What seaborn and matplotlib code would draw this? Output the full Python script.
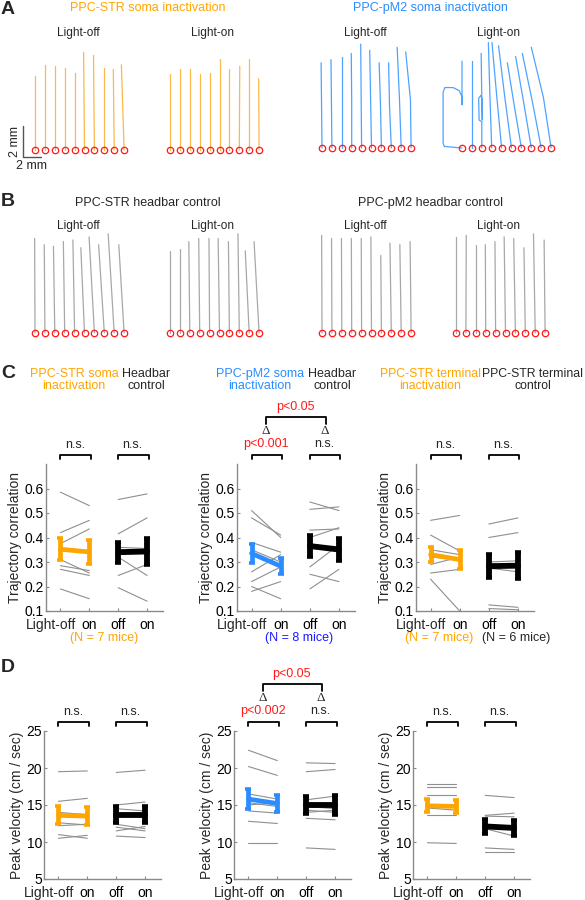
#!/usr/bin/env python
import numpy as np
import pandas as pd
import matplotlib
matplotlib.use('Agg')
import matplotlib.pyplot as plt
import seaborn as sns

W, H = 585, 900

# ---- Panel A/B: trajectory end points (mm), one entry per trial ----
a_str_off_len = [4.8, 5.5, 5.4, 5.3, 5.0, 6.3, 6.1, 5.3, 5.2, 5.5]
a_str_off_drift = [0, 0, 0, 0, 0, -0.1, -0.1, 0, -0.1, -0.3]
a_str_on_len = [4.9, 5.2, 5.2, 4.9, 5.0, 5.9, 5.2, 5.4, 5.9, 4.6]
a_str_on_drift = [0, 0, 0, 0, 0, 0, 0, 0.05, 0, -0.05]
a_pm2_off_len = [5.5, 5.7, 5.9, 6.1, 6.7, 6.3, 5.5, 5.5, 6.5, 6.2]
a_pm2_off_drift = [-0.1, -0.1, 0.0, -0.05, -0.1, -0.2, -0.25, -0.3, -0.45, -0.6]
a_pm2_off_mid = [-0.05, -0.05, 0, 0, -0.05, -0.1, -0.1, -0.2, -0.2, -0.07]
a_pm2_on_len = [5.6, 5.6, 6.1, 6.8, 6.8, 6.6, 5.5, 5.9, 6.1, 6.5]
a_pm2_on_drift = [0, 0, -0.07, -0.37, -1.07, -1.44, -1.56, -1.74, -2.1, -2.2]
a_pm2_on_mid = [0, 0, 0, -0.2, -0.55, -0.75, -0.8, -0.85, -1.0, -0.85]
# detours of trial 1 and trial 3 (light-on, PPC-pM2)
loop1_x = [-1.96, -2.1, -2.1, -1.9, -1.0, -0.3, 0.0]
loop1_y = [0.1, 0.3, 3.6, 3.9, 3.9, 3.7, 3.3]
loop3_x = [0.0, -0.3, -0.35, -0.1, 0.05, 0.05]
loop3_y = [1.7, 1.8, 3.2, 3.4, 3.1, 1.8]

b_str_off_len = [6.1, 5.7, 5.6, 5.9, 6.0, 5.5, 6.2, 5.7, 6.4, 5.7]
b_str_off_drift = [-0.04, -0.07, -0.15, -0.15, -0.19, -0.41, -0.59, -0.63, -0.67, -0.59]
b_str_on_len = [5.3, 5.4, 5.9, 6.1, 6.1, 6.1, 5.9, 6.4, 5.3, 5.9]
b_str_on_drift = [0, 0, -0.11, -0.11, -0.07, -0.15, -0.11, -0.15, -0.44, -0.56]
b_pm2_off_len = [6.3, 6.1, 6.1, 6.1, 6.1, 6.2, 5.0, 5.8, 5.7, 5.9]
b_pm2_off_drift = [-0.04, -0.04, -0.04, -0.04, -0.04, -0.07, -0.07, -0.15, -0.15, -0.11]
b_pm2_on_len = [6.2, 6.3, 5.7, 5.7, 5.9, 6.2, 6.1, 5.5, 6.4, 6.0]
b_pm2_on_drift = [0, 0.04, 0, -0.04, -0.07, -0.15, -0.19, -0.15, -0.19, -0.11]

# ---- Panel C: trajectory correlation per mouse (off, on) ----
c_str_soma_off = [0.585, 0.42, 0.375, 0.31, 0.285, 0.27, 0.19]
c_str_soma_on = [0.53, 0.47, 0.435, 0.255, 0.265, 0.245, 0.15]
c_str_soma_mean, c_str_soma_sem = [0.352, 0.341], [0.044, 0.05]
c_str_head_off = [0.555, 0.415, 0.36, 0.33, 0.32, 0.245, 0.195]
c_str_head_on = [0.578, 0.48, 0.355, 0.35, 0.245, 0.29, 0.14]
c_str_head_mean, c_str_head_sem = [0.34, 0.343], [0.043, 0.055]
c_pm2_soma_off = [0.51, 0.48, 0.38, 0.35, 0.26, 0.22, 0.2, 0.18]
c_pm2_soma_on = [0.40, 0.41, 0.34, 0.30, 0.33, 0.28, 0.15, 0.22]
c_pm2_soma_mean, c_pm2_soma_sem = [0.335, 0.283], [0.04, 0.033]
c_pm2_head_off = [0.545, 0.515, 0.43, 0.40, 0.365, 0.28, 0.25, 0.19]
c_pm2_head_on = [0.51, 0.525, 0.435, 0.44, 0.35, 0.37, 0.22, 0.27]
c_pm2_head_mean, c_pm2_head_sem = [0.365, 0.351], [0.045, 0.045]
c_term_off = [0.47, 0.41, 0.35, 0.29, 0.255, 0.23, 0.32]
c_term_on = [0.49, 0.345, 0.33, 0.32, 0.27, 0.10, 0.31]
c_term_mean, c_term_sem = [0.33, 0.31], [0.03, 0.04]
c_termctl_off = [0.455, 0.40, 0.30, 0.275, 0.125, 0.11]
c_termctl_on = [0.48, 0.42, 0.305, 0.26, 0.115, 0.105]
c_termctl_mean, c_termctl_sem = [0.283, 0.285], [0.05, 0.055]

# ---- Panel D: peak velocity (cm/s) per mouse (off, on) ----
d_str_soma_off = [19.5, 15.5, 14.0, 12.6, 12.2, 11.0, 10.5]
d_str_soma_on = [19.6, 15.9, 13.7, 12.3, 12.4, 10.5, 10.9]
d_str_soma_mean, d_str_soma_sem = [13.6, 13.5], [1.2, 1.2]
d_str_head_off = [19.4, 15.0, 14.5, 12.4, 12.0, 11.5, 10.8]
d_str_head_on = [19.7, 15.4, 14.2, 11.8, 11.5, 12.1, 10.6]
d_str_head_mean, d_str_head_sem = [13.7, 13.7], [1.1, 1.1]
d_pm2_soma_off = [22.4, 20.2, 16.5, 15.3, 15.0, 14.2, 12.8, 9.9]
d_pm2_soma_on = [21.0, 19.0, 15.8, 14.8, 15.3, 13.9, 12.5, 9.9]
d_pm2_soma_mean, d_pm2_soma_sem = [15.8, 15.2], [1.3, 1.2]
d_pm2_head_off = [20.7, 19.5, 15.7, 14.8, 14.3, 13.2, 9.2, 14.0]
d_pm2_head_on = [20.6, 19.8, 16.2, 14.5, 14.0, 13.0, 9.0, 14.3]
d_pm2_head_mean, d_pm2_head_sem = [15.0, 15.0], [1.2, 1.3]
d_term_off = [17.8, 17.5, 16.3, 14.6, 13.7, 9.9, 14.8]
d_term_on = [17.8, 17.5, 16.3, 14.3, 13.7, 9.8, 15.0]
d_term_mean, d_term_sem = [14.9, 14.8], [0.9, 0.9]
d_termctl_off = [16.3, 13.6, 13.5, 11.8, 9.2, 8.6]
d_termctl_on = [16.0, 13.9, 13.4, 10.8, 9.0, 8.6]
d_termctl_mean, d_termctl_sem = [12.1, 11.9], [1.0, 1.1]

x_labels = ['Light-off', 'on', 'off', 'on']

ORANGE = '#FFA500'
ORANGE_TR = '#FDB84A'
BLUE = '#2A8CFF'
BLUE_TR = '#4FA3FF'
GRAY_TR = '#A8A8A8'
RED = '#FF1A1A'
TICK_FS = 10
ANN_FS = 9

sns.set_theme(style='ticks')
plt.rcParams['font.family'] = ['Liberation Sans', 'DejaVu Sans']
plt.rcParams.update({
    'xtick.direction': 'in', 'ytick.direction': 'in',
    'xtick.major.size': 2.5, 'ytick.major.size': 2.5,
    'axes.edgecolor': '#8a8a8a', 'xtick.color': '#8a8a8a',
    'ytick.color': '#8a8a8a', 'xtick.labelcolor': 'black',
    'ytick.labelcolor': 'black', 'axes.linewidth': 1.0,
})

fig = plt.figure(figsize=(W / 100, H / 100), dpi=100)


def px_axes(left, top, right, bottom):
    return fig.add_axes([left / W, 1 - bottom / H, (right - left) / W,
                         (bottom - top) / H])


def ftext(x, y, s, **kw):
    kw.setdefault('ha', 'center')
    kw.setdefault('va', 'center')
    fig.text(x / W, 1 - y / H, s, **kw)


SPACING = 1.1  # mm between start points
XS, YS = 9.0, 15.5  # px per mm


def traj_axes(cx0, cy):
    ax = px_axes(cx0 - 0.6 * XS, cy - 7.2 * YS, cx0 + 10.5 * XS, cy + 0.3 * YS)
    ax.set_xlim(-0.6, 10.5)
    ax.set_ylim(-0.3, 7.2)
    ax.axis('off')
    return ax


def draw_traj(ax, lens, drifts, color, mids=None, loops=None):
    loops = loops or {}
    for i, (ln, dr) in enumerate(zip(lens, drifts)):
        x0 = i * SPACING
        px, py = [0.0], [0.0]
        if i in loops:
            px += loops[i][0]
            py += loops[i][1]
        if mids is not None:
            px.append(mids[i])
            py.append(ln / 2)
        px.append(dr)
        py.append(ln)
        ax.plot(np.array(px) + x0, py, color=color, lw=0.9, clip_on=False)
    ax.plot(np.arange(len(lens)) * SPACING, np.zeros(len(lens)), 'o',
            mfc='none', mec=RED, ms=4.6, mew=0.9, clip_on=False)


# Panel A
ax = traj_axes(35, 150)
draw_traj(ax, a_str_off_len, a_str_off_drift, ORANGE_TR)
sx, sy = (23 - 35) / XS, (150 - 157) / YS
ax.plot([sx, sx, sx + 2], [sy + 2, sy, sy], color='#555555', lw=1.0, clip_on=False)
ax.text(sx - 0.25, sy + 1, '2 mm', rotation=90, ha='right', va='center', fontsize=9)
ax.text(sx + 1, sy - 0.2, '2 mm', ha='center', va='top', fontsize=9)
ax = traj_axes(170, 150)
draw_traj(ax, a_str_on_len, a_str_on_drift, ORANGE_TR)
ax = traj_axes(322, 148)
draw_traj(ax, a_pm2_off_len, a_pm2_off_drift, BLUE_TR, mids=a_pm2_off_mid)
ax = traj_axes(462, 148)
draw_traj(ax, a_pm2_on_len, a_pm2_on_drift, BLUE_TR, mids=a_pm2_on_mid,
          loops={0: (loop1_x, loop1_y), 2: (loop3_x, loop3_y)})

# Panel B
for cx0, lens, drs in [(35, b_str_off_len, b_str_off_drift),
                       (170, b_str_on_len, b_str_on_drift),
                       (322, b_pm2_off_len, b_pm2_off_drift),
                       (456, b_pm2_on_len, b_pm2_on_drift)]:
    ax = traj_axes(cx0, 333)
    draw_traj(ax, lens, drs, GRAY_TR)

ftext(8, 9, 'A', fontsize=14, weight='bold')
ftext(148, 8, 'PPC-STR soma inactivation', color=ORANGE, fontsize=9)
ftext(430, 8, 'PPC-pM2 soma inactivation', color=BLUE, fontsize=9)
for cx, y in [(78, 33), (212, 33), (365, 33), (499, 33),
              (78, 226), (212, 226), (365, 226), (499, 226)]:
    ftext(cx, y, 'Light-off' if cx in (78, 365) else 'Light-on', fontsize=8.6)
ftext(8, 201, 'B', fontsize=14, weight='bold')
ftext(148, 203, 'PPC-STR headbar control', fontsize=9)
ftext(430, 203, 'PPC-pM2 headbar control', fontsize=9)


def bracket(ax, x1, x2, frac, drop, color='black'):
    ax.plot([x1, x1, x2, x2], [frac - drop, frac, frac, frac - drop],
            transform=ax.get_xaxis_transform(), clip_on=False, color=color, lw=1.3)


def pair_panel(rect, groups, ylim, yticks, ylabel):
    ax = px_axes(*rect)
    rows = []
    for gi, (x0, offs, ons, _, _, _) in enumerate(groups):
        for m, (o, n) in enumerate(zip(offs, ons)):
            rows.append({'unit': f'{gi}-{m}', 'x': x0, 'y': o})
            rows.append({'unit': f'{gi}-{m}', 'x': x0 + 1, 'y': n})
    df = pd.DataFrame(rows)
    sns.lineplot(data=df, x='x', y='y', units='unit', estimator=None,
                 color='#8f8f8f', lw=0.8, ax=ax)
    for x0, _, _, mean, sem, col in groups:
        lw = 4.2 if col == 'black' else 3.4
        ax.errorbar([x0, x0 + 1], mean, yerr=sem, color=col, lw=lw,
                    elinewidth=lw, capsize=2.4, capthick=2.6, zorder=5)
    ax.set_xlim(0.5, 4.55)
    ax.set_ylim(*ylim)
    ax.set_yticks(yticks)
    ax.set_yticklabels([f'{t:g}' for t in yticks], fontsize=TICK_FS)
    ax.set_xticks([1, 2, 3, 4])
    # first label is pushed left so it does not run into "on"
    ax.set_xticklabels([''] + x_labels[1:], fontsize=TICK_FS)
    ax.annotate(x_labels[0], xy=(1, 0), xycoords=('data', 'axes fraction'),
                xytext=(-6.5, -5), textcoords='offset points',
                ha='center', va='top', fontsize=TICK_FS)
    ax.tick_params(axis='y', pad=1.5, width=0.8)
    ax.tick_params(axis='x', pad=5, width=0.8)
    ax.set_xlabel('')
    ax.set_ylabel(ylabel, fontsize=TICK_FS, labelpad=2)
    sns.despine(ax=ax)
    h = rect[3] - rect[1]
    bracket(ax, 1.0, 2.05, 1 + 9 / h, 4 / h)
    bracket(ax, 3.0, 4.05, 1 + 9 / h, 4 / h)
    return ax, (lambda px: 1 + px / h), h


C_TOP, D_TOP = 464, 731
c_specs = [
    ((46, C_TOP, 163, 611), [(1, c_str_soma_off, c_str_soma_on, c_str_soma_mean, c_str_soma_sem, ORANGE),
                             (3, c_str_head_off, c_str_head_on, c_str_head_mean, c_str_head_sem, 'black')]),
    ((237, C_TOP, 355, 611), [(1, c_pm2_soma_off, c_pm2_soma_on, c_pm2_soma_mean, c_pm2_soma_sem, BLUE),
                              (3, c_pm2_head_off, c_pm2_head_on, c_pm2_head_mean, c_pm2_head_sem, 'black')]),
    ((416, C_TOP, 534, 611), [(1, c_term_off, c_term_on, c_term_mean, c_term_sem, ORANGE),
                              (3, c_termctl_off, c_termctl_on, c_termctl_mean, c_termctl_sem, 'black')]),
]
d_specs = [
    ((44, D_TOP, 161, 879), [(1, d_str_soma_off, d_str_soma_on, d_str_soma_mean, d_str_soma_sem, ORANGE),
                             (3, d_str_head_off, d_str_head_on, d_str_head_mean, d_str_head_sem, 'black')]),
    ((234, D_TOP, 351, 879), [(1, d_pm2_soma_off, d_pm2_soma_on, d_pm2_soma_mean, d_pm2_soma_sem, BLUE),
                              (3, d_pm2_head_off, d_pm2_head_on, d_pm2_head_mean, d_pm2_head_sem, 'black')]),
    ((413, D_TOP, 530, 879), [(1, d_term_off, d_term_on, d_term_mean, d_term_sem, ORANGE),
                              (3, d_termctl_off, d_termctl_on, d_termctl_mean, d_termctl_sem, 'black')]),
]

for specs, ylim, yticks, ylabel, sig in [
        (c_specs, (0.1, 0.7), [0.1, 0.2, 0.3, 0.4, 0.5, 0.6],
         'Trajectory correlation', 'p<0.001'),
        (d_specs, (5, 25), [5, 10, 15, 20, 25],
         'Peak velocity (cm / sec)', 'p<0.002')]:
    for k, (rect, groups) in enumerate(specs):
        ax, fr, h = pair_panel(rect, groups, ylim, yticks, ylabel)
        tf = ax.get_xaxis_transform()
        if k == 1:
            ax.text(1.5, fr(20), sig, transform=tf, ha='center', va='center',
                    color=RED, fontsize=ANN_FS)
            ax.text(3.5, fr(20), 'n.s.', transform=tf, ha='center', va='center', fontsize=ANN_FS)
            for xd in (1.5, 3.5):
                ax.text(xd, fr(33), '\u0394', transform=tf, ha='center', va='center',
                        fontsize=9.5, family=['Liberation Serif', 'DejaVu Serif'])
            bracket(ax, 1.5, 3.55, fr(47), 7 / h)
            ax.text(2.5, fr(57), 'p<0.05', transform=tf, ha='center', va='center',
                    color=RED, fontsize=ANN_FS)
        else:
            ax.text(1.5, fr(19), 'n.s.', transform=tf, ha='center', va='center', fontsize=ANN_FS)
            ax.text(3.5, fr(19), 'n.s.', transform=tf, ha='center', va='center', fontsize=ANN_FS)

ftext(8, 373, 'C', fontsize=14, weight='bold')
ftext(8, 668, 'D', fontsize=14, weight='bold')
ftext(74, 380, 'PPC-STR soma\ninactivation', color=ORANGE, fontsize=9, linespacing=1.1)
ftext(146, 380, 'Headbar\ncontrol', fontsize=9, linespacing=1.1)
ftext(260, 380, 'PPC-pM2 soma\ninactivation', color=BLUE, fontsize=9, linespacing=1.1)
ftext(332, 380, 'Headbar\ncontrol', fontsize=9, linespacing=1.1)
ftext(430, 380, 'PPC-STR terminal\ninactivation', color=ORANGE, fontsize=8.8, linespacing=1.1)
ftext(533, 380, 'PPC-STR terminal\ncontrol', fontsize=8.8, linespacing=1.1)

ftext(104, 638, '(N = 7 mice)', color=ORANGE, fontsize=9)
ftext(299, 638, '(N = 8 mice)', color='#1a1aff', fontsize=9)
ftext(439, 638, '(N = 7 mice)', color=ORANGE, fontsize=9)
ftext(516, 638, '(N = 6 mice)', fontsize=9)

fig.savefig('out.png', dpi=100)
